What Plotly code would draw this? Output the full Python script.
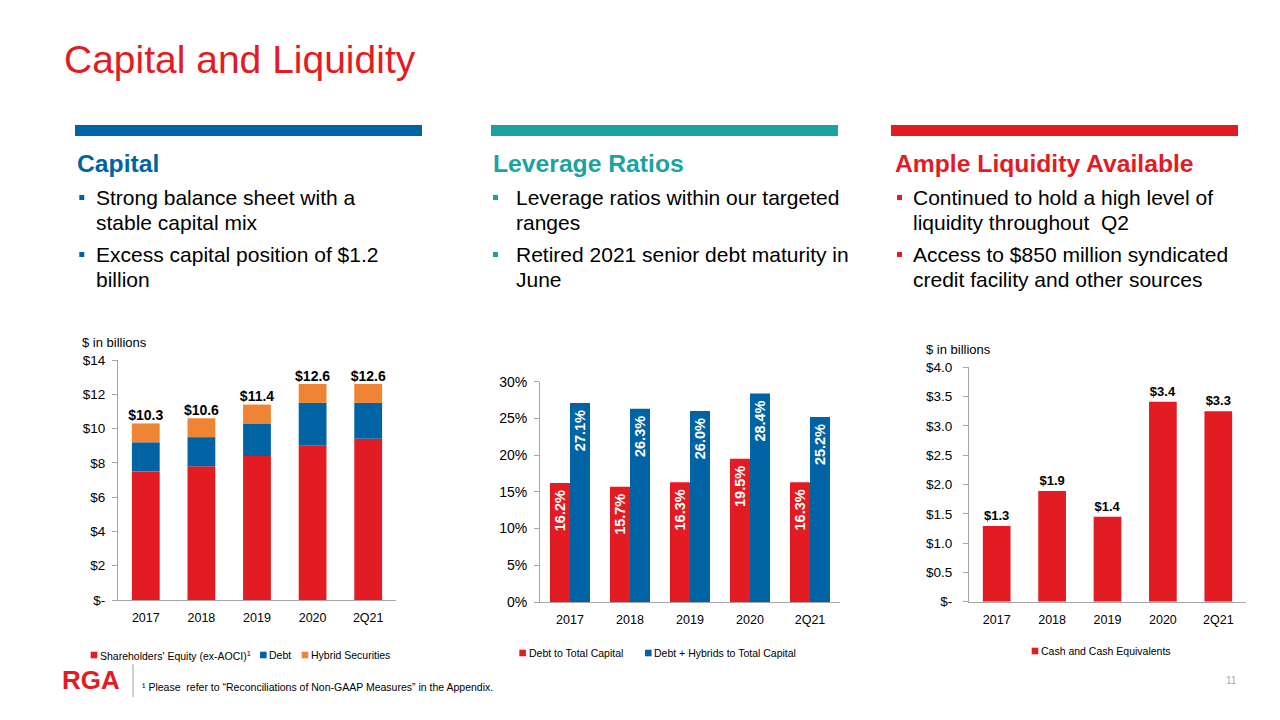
import plotly.graph_objects as go

# ---------------- data ----------------
categories = ["2017", "2018", "2019", "2020", "2Q21"]

# Capital ($ in billions)
capital_series = ["Shareholders' Equity (ex-AOCI)<sup>1</sup>", "Debt", "Hybrid Securities"]
equity = [7.5, 7.8, 8.4, 9.0, 9.4]
debt = [1.7, 1.7, 1.9, 2.5, 2.1]
hybrid = [1.1, 1.1, 1.1, 1.1, 1.1]
capital_ticks = [0, 2, 4, 6, 8, 10, 12, 14]
capital_ticktext = ["$-", "$2", "$4", "$6", "$8", "$10", "$12", "$14"]

# Leverage ratios (%)
leverage_series = ["Debt to Total Capital", "Debt + Hybrids to Total Capital"]
debt_to_capital = [16.2, 15.7, 16.3, 19.5, 16.3]
debt_hybrids_to_capital = [27.1, 26.3, 26.0, 28.4, 25.2]
leverage_ticks = [0, 5, 10, 15, 20, 25, 30]
leverage_ticktext = ["0%", "5%", "10%", "15%", "20%", "25%", "30%"]

# Liquidity ($ in billions)
cash_series = ["Cash and Cash Equivalents"]
cash = [1.29, 1.89, 1.45, 3.41, 3.25]
cash_labels = ["$1.3", "$1.9", "$1.4", "$3.4", "$3.3"]
cash_ticks = [0, 0.5, 1.0, 1.5, 2.0, 2.5, 3.0, 3.5, 4.0]
cash_ticktext = ["$-", "$0.5", "$1.0", "$1.5", "$2.0", "$2.5", "$3.0", "$3.5", "$4.0"]

# ---------------- style ----------------
W, H = 1280, 720
FONT = "Arial, 'Liberation Sans', sans-serif"
RED = "#E31B23"
BLUE = "#0064A4"
ORANGE = "#EE8434"
TEAL = "#1AA3A1"
AXIS = "#A6A6A6"
TXT = "#000000"


def fx(px):
    return px / W


def fy(py):
    return 1 - py / H


fig = go.Figure()

# ---- Chart 1: stacked capital ----
base_debt = [e for e in equity]
base_hyb = [e + d for e, d in zip(equity, debt)]
totals = [e + d + h for e, d, h in zip(equity, debt, hybrid)]

for vals, base, col, name in [(equity, None, RED, capital_series[0]),
                              (debt, base_debt, BLUE, capital_series[1]),
                              (hybrid, base_hyb, ORANGE, capital_series[2])]:
    fig.add_trace(go.Bar(x=categories, y=vals, base=base, name=name, showlegend=False,
                         marker=dict(color=col, line=dict(width=0)), width=0.5, offset=-0.25,
                         xaxis="x", yaxis="y"))
fig.add_trace(go.Scatter(x=categories, y=totals, mode="text", texttemplate="$%{y:.1f}",
                         textposition="top center", cliponaxis=False, showlegend=False,
                         textfont=dict(family=FONT, size=14, color=TXT, weight="bold"),
                         xaxis="x", yaxis="y"))

# ---- Chart 2: leverage ratios ----
for vals, col, name, off in [(debt_to_capital, RED, leverage_series[0], -1/3),
                             (debt_hybrids_to_capital, BLUE, leverage_series[1], 0)]:
    fig.add_trace(go.Bar(x=categories, y=vals, name=name, showlegend=False,
                         marker=dict(color=col, line=dict(width=0)), width=1/3, offset=off,
                         texttemplate="%{y:.1f}% ", textposition="inside", textangle=-90,
                         insidetextanchor="end", constraintext="none",
                         insidetextfont=dict(family=FONT, size=14.5, color="white", weight="bold"),
                         xaxis="x2", yaxis="y2"))

# ---- Chart 3: cash ----
fig.add_trace(go.Bar(x=categories, y=cash, name=cash_series[0], showlegend=False,
                     marker=dict(color=RED, line=dict(width=0)), width=0.5, offset=-0.25,
                     text=cash_labels, textposition="outside", cliponaxis=False,
                     outsidetextfont=dict(family=FONT, size=13, color=TXT, weight="bold"),
                     xaxis="x3", yaxis="y3"))


def xax(x0, x1, anchor):
    return dict(domain=[fx(x0), fx(x1)], anchor=anchor, type="category", range=[-0.5, 4.5],
                showline=True, linecolor=AXIS, linewidth=1, ticks="", showgrid=False,
                zeroline=False, tickfont=dict(family=FONT, size=12.5, color=TXT),
                ticklabelstandoff=6, fixedrange=True, automargin=False)


def yax(y0, y1, anchor, rng, tv, tt, size, standoff):
    return dict(domain=[fy(y0), fy(y1)], anchor=anchor, range=rng, tickvals=tv, ticktext=tt,
                showline=True, linecolor=AXIS, linewidth=1, ticks="outside", ticklen=5,
                tickcolor=AXIS, showgrid=False, zeroline=False,
                tickfont=dict(family=FONT, size=size, color=TXT), ticklabelstandoff=standoff,
                fixedrange=True, automargin=False)


fig.update_layout(
    width=W, height=H, margin=dict(l=0, r=0, t=0, b=0, autoexpand=False),
    paper_bgcolor="white", plot_bgcolor="white", barmode="overlay", showlegend=False,
    font=dict(family=FONT, color=TXT),
    xaxis=xax(118, 396, "y"),
    yaxis=yax(600, 360, "x", [0, 14], capital_ticks, capital_ticktext, 13.5, 4),
    xaxis2=xax(540, 840, "y2"),
    yaxis2=yax(602, 381.7, "x2", [0, 30], leverage_ticks, leverage_ticktext, 14, 4),
    xaxis3=xax(969, 1246, "y3"),
    yaxis3=yax(601.7, 367.3, "x3", [0, 4], cash_ticks, cash_ticktext, 13.5, 8),
)

shapes = []
annotations = []


def rect(x0, y0, x1, y1, color):
    shapes.append(dict(type="rect", xref="paper", yref="paper", x0=fx(x0), x1=fx(x1),
                       y0=fy(y1), y1=fy(y0), fillcolor=color, line=dict(width=0), layer="above"))


def text(x, baseline, s, size, color=TXT, bold=False, anchor="left"):
    annotations.append(dict(xref="paper", yref="paper", x=fx(x), y=fy(baseline - 0.345 * size),
                            xanchor=anchor, yanchor="middle", showarrow=False, text=s,
                            borderpad=0, font=dict(family=FONT, size=size, color=color,
                                                   weight="bold" if bold else "normal")))


# Title
text(63, 73.3, "Capital and Liquidity", 39, RED)

# Section header bars
rect(75, 125, 422, 136, BLUE)
rect(491, 125, 838, 136, TEAL)
rect(891, 125, 1238, 136, RED)

columns = [
    (76, 79.3, 94.5, "Capital", BLUE,
     [["Strong balance sheet with a", "stable capital mix"], ["Excess capital position of $1.2", "billion"]]),
    (492, 493, 515, "Leverage Ratios", TEAL,
     [["Leverage ratios within our targeted", "ranges"], ["Retired 2021 senior debt maturity in", "June"]]),
    (894, 897, 912, "Ample Liquidity Available", RED,
     [["Continued to hold a high level of", "liquidity throughout  Q2"],
      ["Access to $850 million syndicated", "credit facility and other sources"]]),
]
baselines = [[205, 230], [262, 287]]
for hx, bx, tx, head, col, bullets in columns:
    text(hx, 171.7, head, 24.7, col, bold=True)
    for (b1, b2), lines in zip(baselines, bullets):
        rect(bx, b1 - 10, bx + 5, b1 - 5, col)
        text(tx, b1, lines[0], 21)
        text(tx, b2, lines[1], 21)

# Unit labels
text(81, 347, "$ in billions", 13)
text(925, 354, "$ in billions", 13)

# Legends (swatch + label), placed below each chart
legend_items = [
    (90.7, 655, RED, capital_series[0]), (260, 655, BLUE, capital_series[1]),
    (301.7, 655, ORANGE, capital_series[2]),
    (519.3, 653, RED, leverage_series[0]), (645, 653, BLUE, leverage_series[1]),
    (1031.7, 651, RED, cash_series[0]),
]
for lx, ly, col, name in legend_items:
    rect(lx, ly - 3.3, lx + 6.6, ly + 3.3, col)
    annotations.append(dict(xref="paper", yref="paper", x=fx(lx + 8.3), y=fy(ly),
                            xanchor="left", yanchor="middle", showarrow=False, text=name,
                            borderpad=0, font=dict(family=FONT, size=10.5, color=TXT)))

# Footer
text(91, 689, "RGA", 26, RED, bold=True, anchor="center")
shapes.append(dict(type="line", xref="paper", yref="paper", x0=fx(133), x1=fx(133),
                   y0=fy(697), y1=fy(664), line=dict(color="#BFBFBF", width=1.5)))
text(141, 690.5, "\u00b9 Please  refer to \u201cReconciliations of Non-GAAP Measures\u201d in the Appendix.", 10.5)
text(1231, 683.5, "11", 10, "#A6A6A6", anchor="center")

fig.update_layout(shapes=shapes, annotations=annotations)

fig.write_html("out.html", config={"responsive": False, "displayModeBar": False},
               post_script="document.body.style.margin='0';document.body.style.padding='0';"
                           "document.documentElement.style.overflow='hidden';")
